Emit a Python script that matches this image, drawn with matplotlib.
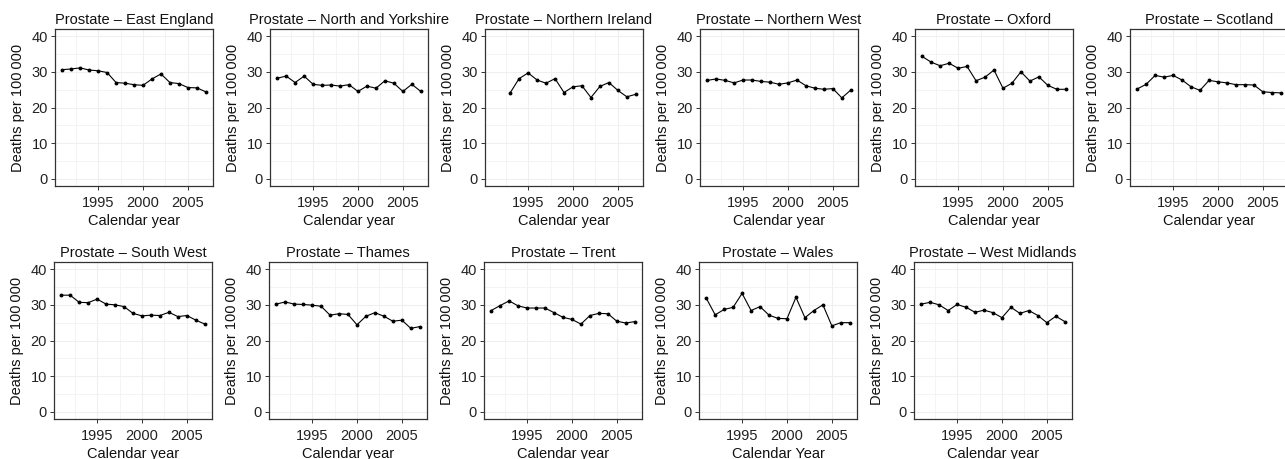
import matplotlib
matplotlib.use("Agg")
import matplotlib.pyplot as plt
import numpy as np

plt.rcParams['font.family'] = ['Liberation Sans', 'DejaVu Sans']

years = list(range(1991, 2008))
years_ni = list(range(1993, 2008))

east_england = [30.6, 30.8, 31.1, 30.5, 30.3, 29.8, 27.0, 26.8, 26.4, 26.2, 28.0, 29.4, 27.0, 26.7, 25.6, 25.5, 24.4]
north_yorkshire = [28.2, 28.8, 27.0, 28.8, 26.5, 26.2, 26.3, 26.0, 26.4, 24.5, 26.0, 25.4, 27.5, 26.8, 24.5, 26.5, 24.5]
northern_ireland = [24.1, 28.1, 29.7, 27.7, 26.8, 28.1, 24.2, 25.8, 26.1, 22.8, 25.9, 27.0, 24.8, 23.0, 23.7]
northern_west = [27.6, 28.0, 27.6, 26.9, 27.7, 27.7, 27.3, 27.1, 26.5, 26.9, 27.7, 26.1, 25.4, 25.1, 25.3, 22.7, 24.9]
oxford = [34.3, 32.7, 31.7, 32.4, 31.0, 31.5, 27.5, 28.5, 30.5, 25.4, 26.8, 30.0, 27.4, 28.6, 26.2, 25.1, 25.1]
scotland = [25.2, 26.5, 29.0, 28.5, 29.0, 27.7, 25.8, 24.8, 27.6, 27.2, 26.9, 26.4, 26.4, 26.3, 24.4, 24.2, 24.1]
south_west = [32.7, 32.7, 30.7, 30.6, 31.6, 30.2, 30.0, 29.5, 27.6, 26.9, 27.1, 27.0, 27.9, 26.7, 27.0, 25.7, 24.6]
thames = [30.2, 30.8, 30.2, 30.1, 29.9, 29.6, 27.1, 27.5, 27.3, 24.4, 26.8, 27.8, 26.8, 25.4, 25.7, 23.4, 23.9]
trent = [28.4, 29.8, 31.1, 29.7, 29.1, 29.1, 29.1, 27.8, 26.5, 25.9, 24.6, 27.0, 27.6, 27.5, 25.4, 24.9, 25.3]
wales = [31.9, 27.2, 28.7, 29.3, 33.2, 28.4, 29.5, 27.1, 26.2, 26.1, 32.1, 26.4, 28.4, 30.0, 24.1, 25.0, 25.0]
west_midlands = [30.2, 30.7, 30.0, 28.4, 30.1, 29.3, 27.9, 28.5, 27.8, 26.4, 29.3, 27.6, 28.4, 27.0, 25.0, 26.8, 25.3]

titles = ["Prostate \u2013 East England", "Prostate \u2013 North and Yorkshire",
          "Prostate \u2013 Northern Ireland", "Prostate \u2013 Northern West",
          "Prostate \u2013 Oxford", "Prostate \u2013 Scotland",
          "Prostate \u2013 South West", "Prostate \u2013 Thames", "Prostate \u2013 Trent",
          "Prostate \u2013 Wales", "Prostate \u2013 West Midlands"]
series = [east_england, north_yorkshire, northern_ireland, northern_west, oxford, scotland,
          south_west, thames, trent, wales, west_midlands]
xvals = [years, years, years_ni, years, years, years, years, years, years, years, years]
xlabels = ["Calendar year"] * 9 + ["Calendar Year", "Calendar year"]

W, H = 1285, 459
fig = plt.figure(figsize=(W / 100, H / 100), dpi=100)

fs = 10.5
for i in range(11):
    row, col = divmod(i, 6)
    left = 55 + 215 * col
    if row == 0:
        top, bottom = 29, 186
    else:
        top, bottom = 262, 419
        left -= 1
    ax = fig.add_axes([left / W, 1 - bottom / H, 158 / W, (bottom - top) / H])
    ax.plot(xvals[i], series[i], color='black', lw=0.8, marker='o', ms=1.8, zorder=3)
    ax.set_xlim(1990.2, 2007.8)
    ax.set_ylim(-2, 42)
    ax.set_xticks([1995, 2000, 2005])
    ax.set_xticks([1992.5, 1997.5, 2002.5], minor=True)
    ax.set_yticks([0, 10, 20, 30, 40])
    ax.set_yticks([5, 15, 25, 35], minor=True)
    ax.grid(which='major', color='#EFEFEF', lw=0.8, zorder=0)
    ax.grid(which='minor', color='#F2F2F2', lw=0.6, zorder=0)
    ax.tick_params(which='minor', length=0)
    ax.tick_params(which='major', length=3, width=0.7, color='#333333',
                   labelsize=fs, labelcolor='#222222', pad=2)
    ax.tick_params(axis='x', which='major', pad=4)
    for s in ax.spines.values():
        s.set_color('#333333')
        s.set_linewidth(0.9)
    ax.set_title(titles[i], fontsize=fs, pad=3.5, color='#111111')
    ax.set_xlabel(xlabels[i], fontsize=fs, labelpad=3, color='#111111')
    ax.set_ylabel("Deaths per 100\u2009000", fontsize=fs, labelpad=5, color='#111111')
    ax.set_axisbelow(True)

fig.savefig("out.png", dpi=100)
